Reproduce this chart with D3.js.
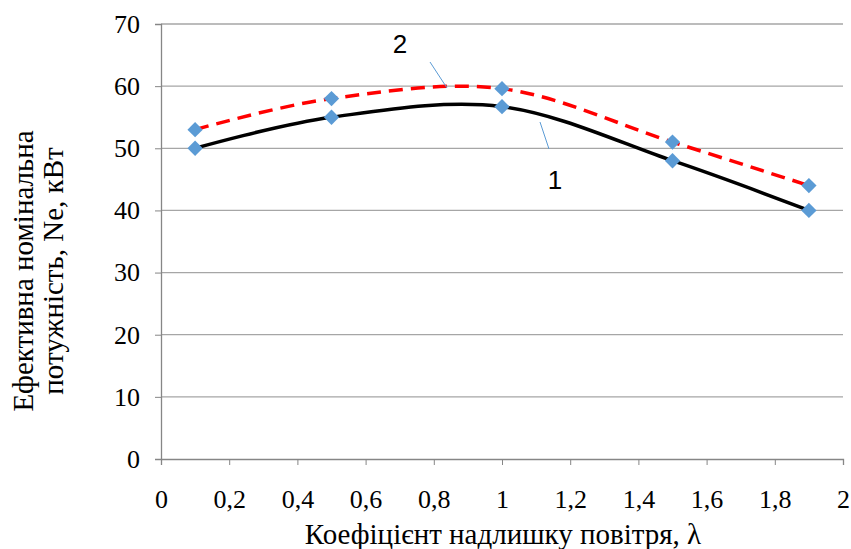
<!DOCTYPE html>
<html>
<head>
<meta charset="utf-8">
<script src="https://cdn.jsdelivr.net/npm/d3@7"></script>
<style>
  body { margin: 0; background: #fff; }
  svg { display: block; }
  .tick-serif { font-family: "Times New Roman", "Liberation Serif", "DejaVu Serif", serif; font-size: 26px; }
  .title-serif { font-family: "Times New Roman", "Liberation Serif", "DejaVu Serif", serif; font-size: 29px; }
  .sans { font-family: "Liberation Sans", Arial, sans-serif; font-size: 26px; }
</style>
</head>
<body>
<div id="chart"></div>
<script>
// Ne vs excess-air coefficient, two curves (1 solid, 2 dashed)
const lambdaValues = [0.1, 0.5, 1.0, 1.5, 1.9];
const curve1 = [50, 55, 56.7, 48, 40];
const curve2 = [53, 58, 59.6, 51, 44];
const xTicks = [0, 0.2, 0.4, 0.6, 0.8, 1, 1.2, 1.4, 1.6, 1.8, 2];
const yTicks = [0, 10, 20, 30, 40, 50, 60, 70];

const width = 851;
const height = 549;
const margin = { top: 24, right: 8, bottom: 90, left: 161 };

const svg = d3.select("#chart").append("svg")
  .attr("width", width)
  .attr("height", height);

const x = d3.scaleLinear().domain([0, 2]).range([margin.left, 843]);
const y = d3.scaleLinear().domain([0, 70]).range([459, margin.top]);

// gridlines
svg.append("g")
  .selectAll("line")
  .data(yTicks.filter((d) => d > 0))
  .join("line")
  .attr("x1", x(0)).attr("x2", x(2))
  .attr("y1", (d) => y(d)).attr("y2", (d) => y(d))
  .attr("stroke", "#a6a6a6")
  .attr("stroke-width", 1.3);

// axes
svg.append("g")
  .attr("transform", `translate(0,${y(0)})`)
  .call(d3.axisBottom(x).tickValues(xTicks).tickSize(6).tickPadding(25)
    .tickFormat((d) => String(d).replace(".", ",")))
  .attr("font-family", null)
  .attr("font-size", null)
  .attr("class", "tick-serif")
  .call((g) => g.select(".domain").attr("stroke", "#868686").attr("stroke-width", 1.3))
  .call((g) => g.selectAll(".tick line").attr("stroke", "#868686"))
  .call((g) => g.selectAll("text").attr("fill", "#000"));

svg.append("g")
  .attr("transform", `translate(${x(0)},0)`)
  .call(d3.axisLeft(y).tickValues(yTicks).tickSize(6).tickPadding(15))
  .attr("font-family", null)
  .attr("font-size", null)
  .attr("class", "tick-serif")
  .call((g) => g.select(".domain").attr("stroke", "#868686").attr("stroke-width", 1.3))
  .call((g) => g.selectAll(".tick line").attr("stroke", "#868686"))
  .call((g) => g.selectAll("text").attr("fill", "#000"));

// axis titles
svg.append("text")
  .attr("class", "title-serif")
  .attr("x", 503)
  .attr("y", 544)
  .attr("text-anchor", "middle")
  .text("Коефіцієнт надлишку повітря, λ");

const yTitle = svg.append("text")
  .attr("class", "title-serif")
  .attr("transform", "translate(33,271) rotate(-90)")
  .attr("text-anchor", "middle");
yTitle.append("tspan").attr("x", 0).attr("dy", 0).text("Ефективна номінальна");
yTitle.append("tspan").attr("x", 0).attr("dy", 30).text("потужність, Ne, кВт");

// curves
const line = d3.line()
  .x((d) => x(d[0]))
  .y((d) => y(d[1]))
  .curve(d3.curveCatmullRom.alpha(0));

const pts1 = lambdaValues.map((l, i) => [l, curve1[i]]);
const pts2 = lambdaValues.map((l, i) => [l, curve2[i]]);

svg.append("path")
  .attr("d", line(pts2))
  .attr("fill", "none")
  .attr("stroke", "#ff0000")
  .attr("stroke-width", 3.5)
  .attr("stroke-dasharray", "14 8");

svg.append("path")
  .attr("d", line(pts1))
  .attr("fill", "none")
  .attr("stroke", "#000")
  .attr("stroke-width", 3.5);

// markers
const diamond = d3.symbol().type(d3.symbolDiamond2).size(150);
svg.append("g")
  .selectAll("path")
  .data(pts1.concat(pts2))
  .join("path")
  .attr("d", diamond)
  .attr("transform", (d) => `translate(${x(d[0])},${y(d[1])})`)
  .attr("fill", "#5b9bd5");

// curve labels with leader lines
svg.append("line")
  .attr("x1", 430).attr("y1", 62).attr("x2", 447).attr("y2", 88)
  .attr("stroke", "#5b9bd5").attr("stroke-width", 1);
svg.append("line")
  .attr("x1", 540).attr("y1", 122).attr("x2", 549).attr("y2", 149)
  .attr("stroke", "#5b9bd5").attr("stroke-width", 1);

svg.append("text")
  .attr("class", "sans")
  .attr("x", 400).attr("y", 53)
  .attr("text-anchor", "middle")
  .text("2");
svg.append("text")
  .attr("class", "sans")
  .attr("x", 555).attr("y", 189)
  .attr("text-anchor", "middle")
  .text("1");
</script>
</body>
</html>
